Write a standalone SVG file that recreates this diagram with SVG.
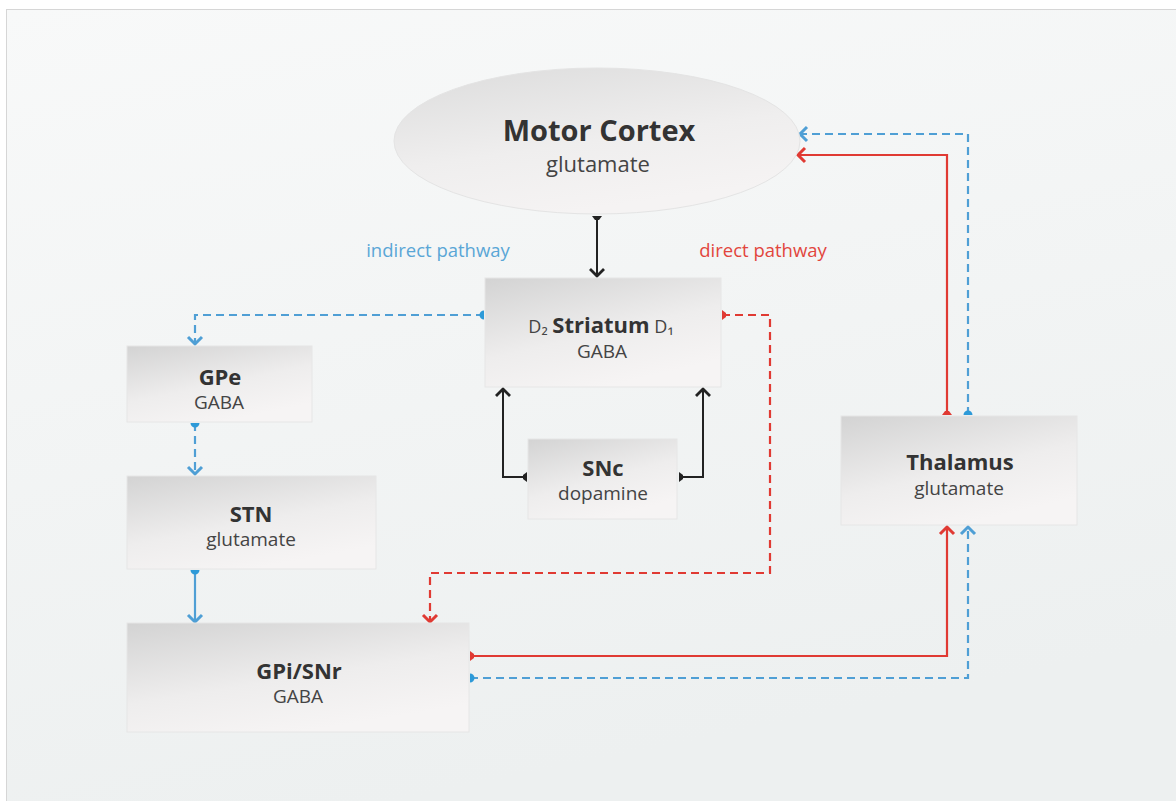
<svg xmlns="http://www.w3.org/2000/svg" width="1176" height="801" viewBox="0 0 1176 801">
<defs>
<linearGradient id="bg" x1="0" y1="0" x2="0.3" y2="1">
<stop offset="0" stop-color="#f8f9f9"/>
<stop offset="1" stop-color="#edf0f0"/>
</linearGradient>
<linearGradient id="box" x1="0" y1="0" x2="0.5" y2="1">
<stop offset="0" stop-color="#d3d3d3"/>
<stop offset="0.6" stop-color="#eeeded"/>
<stop offset="1" stop-color="#f6f4f4"/>
</linearGradient>
<linearGradient id="ell" x1="0" y1="0" x2="0.4" y2="1">
<stop offset="0" stop-color="#dcdcdc"/>
<stop offset="0.6" stop-color="#efeeee"/>
<stop offset="1" stop-color="#f5f3f3"/>
</linearGradient>
<marker id="ak" markerWidth="10" markerHeight="16" refX="8" refY="8" orient="auto" markerUnits="userSpaceOnUse" viewBox="0 0 10 16" overflow="visible">
<path d="M1 1 L8 8 L1 15" fill="none" stroke="#222" stroke-width="2.8"/>
</marker>
<marker id="ab" markerWidth="10" markerHeight="16" refX="8" refY="8" orient="auto" markerUnits="userSpaceOnUse" viewBox="0 0 10 16" overflow="visible">
<path d="M1 1 L8 8 L1 15" fill="none" stroke="#4f9fd5" stroke-width="3"/>
</marker>
<marker id="ar" markerWidth="10" markerHeight="16" refX="8" refY="8" orient="auto" markerUnits="userSpaceOnUse" viewBox="0 0 10 16" overflow="visible">
<path d="M1 1 L8 8 L1 15" fill="none" stroke="#e03a33" stroke-width="3"/>
</marker>
<marker id="sk" markerWidth="6" markerHeight="12" refX="0" refY="6" orient="auto" markerUnits="userSpaceOnUse" viewBox="0 0 6 12" overflow="visible">
<path d="M0 1 L0 11 L4 8 L4 4 Z" fill="#222"/>
</marker>
<marker id="sr" markerWidth="6" markerHeight="12" refX="0" refY="6" orient="auto" markerUnits="userSpaceOnUse" viewBox="0 0 6 12" overflow="visible">
<path d="M0 1 L0 11 L4 8 L4 4 Z" fill="#e03a33"/>
</marker>
<marker id="sb" markerWidth="6" markerHeight="12" refX="0" refY="6" orient="auto" markerUnits="userSpaceOnUse" viewBox="0 0 6 12" overflow="visible">
<path d="M0 1.5 A4.5 4.5 0 0 1 0 10.5 Z" fill="#2d9ad8"/>
</marker>
</defs>
<style>
.t{font-family:"Open Sans","Noto Sans","Liberation Sans",sans-serif;fill:#333;text-anchor:middle}
.h{font-weight:bold;font-size:22px}
.s{font-size:19px;fill:#444}
.nb{fill:url(#box);stroke:#e6e6e6;stroke-width:1}
.k{fill:none;stroke:#222;stroke-width:2}
.r{fill:none;stroke:#e03a33;stroke-width:2.2}
.b{fill:none;stroke:#4f9fd5;stroke-width:2.2}
.d{stroke-dasharray:8 5}
</style>
<rect x="0" y="0" width="1176" height="801" fill="#ffffff"/>
<rect x="6.5" y="9.5" width="1175" height="800" fill="url(#bg)" stroke="#d6d6d6" stroke-width="1"/>

<g id="labels">
<text class="t" x="438" y="257" style="font-size:18.5px;fill:#5aa6d6">indirect pathway</text>
<text class="t" x="763" y="257" style="font-size:18.5px;fill:#e2463d">direct pathway</text>
</g>

<g id="connectors">
<path class="k" d="M597 216 V276" marker-start="url(#sk)" marker-end="url(#ak)"/>
<path class="k" d="M527 477 H503 V389" marker-start="url(#sk)" marker-end="url(#ak)"/>
<path class="k" d="M679 477 H703 V389" marker-start="url(#sk)" marker-end="url(#ak)"/>
<path class="b d" d="M484 315 H195 V344" marker-start="url(#sb)" marker-end="url(#ab)"/>
<path class="b d" d="M195 423 V474" marker-start="url(#sb)" marker-end="url(#ab)"/>
<path class="b" d="M195 570 V622" marker-start="url(#sb)" marker-end="url(#ab)"/>
<path class="r d" d="M722 315 H770 V573 H430 V622" marker-start="url(#sr)" marker-end="url(#ar)"/>
<path class="r" d="M470 656 H947 V527" marker-start="url(#sr)" marker-end="url(#ar)"/>
<path class="b d" d="M470 678 H968 V527" marker-start="url(#sb)" marker-end="url(#ab)"/>
<path class="r" d="M947 415 V155 H798" marker-start="url(#sr)" marker-end="url(#ar)"/>
<path class="b d" d="M968 415 V134 H800" marker-start="url(#sb)" marker-end="url(#ab)"/>
</g>

<g id="motor-cortex">
<ellipse cx="597" cy="141" rx="203" ry="73" fill="url(#ell)" stroke="#e4e4e4" stroke-width="1"/>
<text class="t" x="599" y="141" style="font-weight:bold;font-size:29px">Motor Cortex</text>
<text class="t" x="598" y="172" style="font-size:22px;fill:#444">glutamate</text>
</g>

<g id="striatum">
<rect class="nb" x="485" y="278" width="236" height="109"/>
<text class="t" x="601" y="333"><tspan style="font-size:18px;fill:#444">D₂ </tspan><tspan class="h">Striatum</tspan><tspan style="font-size:18px;fill:#444"> D₁</tspan></text>
<text class="t s" x="602" y="358">GABA</text>
</g>

<g id="gpe">
<rect class="nb" x="127" y="346" width="185" height="76"/>
<text class="t h" x="220" y="385">GPe</text>
<text class="t s" x="219" y="409">GABA</text>
</g>

<g id="stn">
<rect class="nb" x="127" y="476" width="249" height="93"/>
<text class="t h" x="251" y="522">STN</text>
<text class="t s" x="251" y="546">glutamate</text>
</g>

<g id="snc">
<rect class="nb" x="528" y="439" width="149" height="80"/>
<text class="t h" x="603" y="476">SNc</text>
<text class="t s" x="603" y="500">dopamine</text>
</g>

<g id="thalamus">
<rect class="nb" x="841" y="416" width="236" height="109"/>
<text class="t h" x="960" y="470">Thalamus</text>
<text class="t s" x="959" y="495">glutamate</text>
</g>

<g id="gpi-snr">
<rect class="nb" x="127" y="623" width="342" height="109"/>
<text class="t h" x="299" y="679">GPi/SNr</text>
<text class="t s" x="298" y="703">GABA</text>
</g>
</svg>
